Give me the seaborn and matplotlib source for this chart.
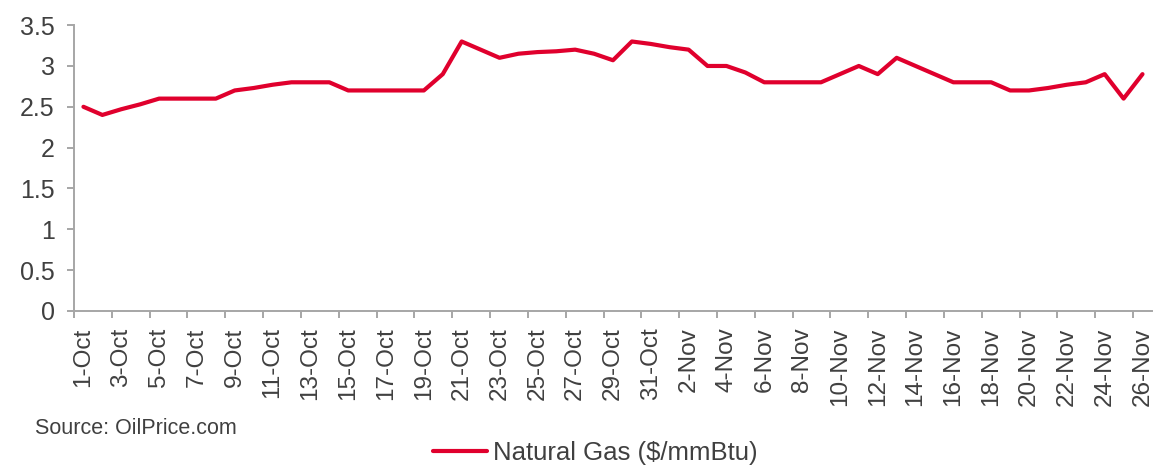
import numpy as np
import pandas as pd
import matplotlib
matplotlib.use("Agg")
import matplotlib.pyplot as plt
import seaborn as sns

dates = [f"{d}-Oct" for d in range(1, 32)] + [f"{d}-Nov" for d in range(1, 27)]
gas = [2.5, 2.4, 2.47, 2.53, 2.6, 2.6, 2.6, 2.6, 2.7, 2.73,
       2.77, 2.8, 2.8, 2.8, 2.7, 2.7, 2.7, 2.7, 2.7, 2.9,
       3.3, 3.2, 3.1, 3.15, 3.17, 3.18, 3.2, 3.15, 3.07, 3.3,
       3.27, 3.23, 3.2, 3.0, 3.0, 2.92, 2.8, 2.8, 2.8, 2.8,
       2.9, 3.0, 2.9, 3.1, 3.0, 2.9, 2.8, 2.8, 2.8, 2.7,
       2.7, 2.73, 2.77, 2.8, 2.9, 2.6, 2.9]
series_name = "Natural Gas ($/mmBtu)"
source_text = "Source: OilPrice.com"
yticks = [0, 0.5, 1, 1.5, 2, 2.5, 3, 3.5]
ytick_labels = ["0", "0.5", "1", "1.5", "2", "2.5", "3", "3.5"]

sns.set_theme(style="white")
plt.rcParams["font.family"] = ["Liberation Sans", "DejaVu Sans"]

df = pd.DataFrame({"idx": np.arange(len(dates)), "date": dates, "value": gas})

fig = plt.figure(figsize=(11.56, 4.66), dpi=100)
ax = fig.add_axes([0.064, 0.333, 0.9325, 0.613])

line_color = "#E0002D"
sns.lineplot(data=df, x="idx", y="value", ax=ax, color=line_color,
             linewidth=3.0, label=series_name, legend=False)

ax.set_xlim(-0.5, len(dates) - 0.5)
ax.set_ylim(0, 3.5)
ax.set_yticks(yticks)
ax.set_yticklabels(ytick_labels)
ax.set_xticks(np.arange(0, len(dates), 2))
ax.set_xticklabels(dates[::2], rotation=90)
ax.set_xticks(np.arange(-0.5, len(dates), 2), minor=True)
ax.set_xlabel("")
ax.set_ylabel("")

grey = "#A6A6A6"
text_col = "#404040"
for s in ["top", "right"]:
    ax.spines[s].set_visible(False)
for s in ["left", "bottom"]:
    ax.spines[s].set_color(grey)
    ax.spines[s].set_linewidth(1.4)

ax.tick_params(axis="y", which="major", left=True, length=5, width=1.4,
               color=grey, labelsize=18, labelcolor=text_col, pad=9)
ax.tick_params(axis="x", which="major", bottom=False, length=0,
               labelsize=17.5, labelcolor=text_col, pad=12)
ax.tick_params(axis="x", which="minor", bottom=True, length=5, width=1.4,
               color=grey)

fig.text(0.030, 0.081, source_text, fontsize=15.5, color=text_col,
         ha="left", va="center")

handles, labels = ax.get_legend_handles_labels()
fig.legend(handles, labels, loc="center", bbox_to_anchor=(0.515, 0.028),
           frameon=False, fontsize=18.5, labelcolor=text_col,
           handlelength=2.1, handletextpad=0.2, borderpad=0, borderaxespad=0)

fig.savefig("out.png", dpi=100)
